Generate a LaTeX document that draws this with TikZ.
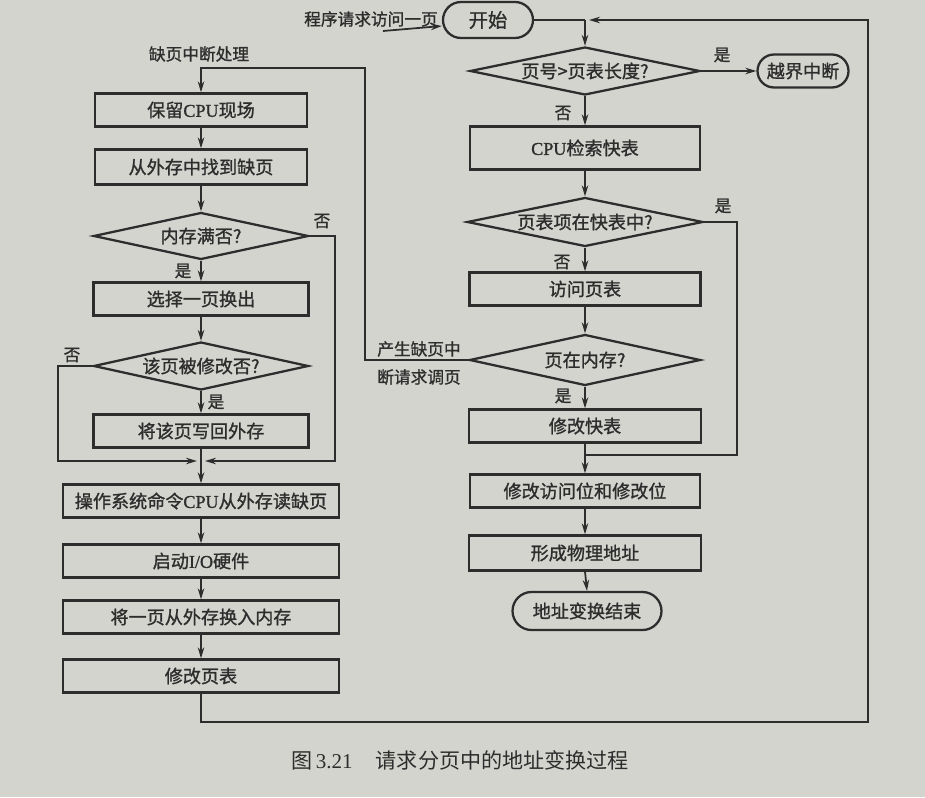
\documentclass[tikz,border=0pt]{standalone}
\usepackage{fontspec}
\setmainfont{Liberation Serif}
\newfontfamily\cjk[FakeBold=1.2]{Noto Sans CJK SC}
\newfontfamily\capfont{Noto Sans CJK SC}
\newfontfamily\latfont[FakeBold=1.2]{Liberation Serif}
\usetikzlibrary{shapes.geometric,shapes.misc,arrows.meta}
\definecolor{paper}{RGB}{212,212,207}
\definecolor{ink}{RGB}{45,45,45}
\begin{document}
\begin{tikzpicture}[x=0.02cm,y=-0.02cm,
  every node/.style={text=ink,font=\cjk\fontsize{10.3}{12}\selectfont},
  proc/.style={draw=ink,line width=1.3pt,rectangle,minimum height=0.66cm,inner sep=0pt},
  decide/.style={draw=ink,line width=1.3pt,diamond,aspect=5,inner sep=0pt},
  term/.style={draw=ink,line width=1.3pt,rounded rectangle,minimum height=0.72cm,inner sep=0pt},
  lbl/.style={font=\cjk\fontsize{9.5}{11}\selectfont},
  ln/.style={draw=ink,line width=1pt},
  arr/.style={draw=ink,line width=1pt,-{Stealth[length=2.2mm,width=1.3mm]}}]
  \fill[paper] (0,0) rectangle (925,797);
  \node[term,minimum width=1.8cm,font=\cjk\fontsize{11}{13}\selectfont] (start) at (488,20) {开始};
  \node[lbl] (reqlbl) at (371,19) {程序请求访问一页};
  \coordinate (reqtail) at (383,31);
  \coordinate (jtop) at (585,20);
  \node[decide,minimum width=4.6cm,minimum height=0.96cm] (bound) at (585,71) {页号>页表长度?};
  \node[term,minimum width=1.82cm,minimum height=0.66cm] (oob) at (803,71) {越界中断};
  \node[proc,minimum width=4.6cm,minimum height=0.86cm] (tlbsearch) at (585,148) {{\latfont CPU}检索快表};
  \node[decide,minimum width=4.72cm,minimum height=0.98cm] (intlb) at (585,222) {页表项在快表中?};
  \node[proc,minimum width=4.62cm] (pgtlook) at (585,289) {访问页表};
  \node[decide,minimum width=4.62cm,minimum height=1.02cm] (inmem) at (585,360) {页在内存?};
  \node[proc,minimum width=4.64cm] (updtlb) at (585,426) {修改快表};
  \coordinate (hitturn) at (737,455);
  \node[proc,minimum width=4.6cm] (updbits) at (585,491) {修改访问位和修改位};
  \node[proc,minimum width=4.64cm,minimum height=0.7cm] (phys) at (585,553) {形成物理地址};
  \node[term,minimum width=2.98cm,minimum height=0.76cm] (done) at (587,611) {地址变换结束};
  \coordinate (pfturn) at (365,68);
  \node[lbl] (pflbl) at (199,54) {缺页中断处理};
  \node[proc,minimum width=4.24cm] (save) at (201,110) {保留{\latfont CPU}现场};
  \node[proc,minimum width=4.24cm,minimum height=0.7cm] (find) at (201,167) {从外存中找到缺页};
  \node[decide,minimum width=4.3cm,minimum height=0.94cm] (full) at (201,236) {内存满否?};
  \node[proc,minimum width=4.3cm] (victim) at (201,299) {选择一页换出};
  \node[decide,minimum width=4.3cm,minimum height=0.96cm] (dirty) at (201,366) {该页被修改否?};
  \node[proc,minimum width=4.3cm] (wb) at (201,431) {将该页写回外存};
  \coordinate (jleft) at (201,461);
  \coordinate (fullturn) at (335,461);
  \coordinate (dirtyturn) at (58,461);
  \node[proc,minimum width=5.52cm] (osread) at (201,501) {操作系统命令{\latfont CPU}从外存读缺页};
  \node[proc,minimum width=5.52cm] (io) at (201,561) {启动{\latfont I/O}硬件};
  \node[proc,minimum width=5.52cm] (swapin) at (201,617) {将一页从外存换入内存};
  \node[proc,minimum width=5.52cm] (pgtupd) at (201,676) {修改页表};
  \coordinate (loopbr) at (868,722);
  \node[lbl] (y1) at (722,55) {是};
  \node[lbl] (n1) at (563,113) {否};
  \node[lbl] (y2) at (723,206) {是};
  \node[lbl] (n2) at (562,262) {否};
  \node[lbl] (y3) at (563,396) {是};
  \node[lbl] (pf1) at (419,349) {产生缺页中};
  \node[lbl] (pf2) at (419,377) {断请求调页};
  \node[lbl] (n4) at (322,221) {否};
  \node[lbl] (y4) at (183,271) {是};
  \node[lbl] (n5) at (72,355) {否};
  \node[lbl] (y5) at (216,402) {是};
  \node[font=\capfont\fontsize{12}{14}\selectfont] (cap) at (460,760) {图\,{\rmfamily 3.21}\hspace{1.1em}请求分页中的地址变换过程};
  \draw[arr] (reqtail) -- ([yshift=-1.2mm]start.west);
  \draw[ln] (start.east) -- (jtop);
  \draw[arr] (jtop) -- (bound.north);
  \draw[arr] (bound.east) -- (oob.west);
  \draw[arr] (bound.south) -- (tlbsearch.north);
  \draw[arr] (tlbsearch.south) -- (intlb.north);
  \draw[arr] (intlb.south) -- (pgtlook.north);
  \draw[arr] (pgtlook.south) -- (inmem.north);
  \draw[arr] (inmem.south) -- (updtlb.north);
  \draw[arr] (updtlb.south) -- (updbits.north);
  \draw[ln] (intlb.east) -| (hitturn) -- (updtlb.south |- hitturn);
  \draw[arr] (updbits.south) -- (phys.north);
  \draw[arr] (phys.south) -- (done.north);
  \draw[arr] (inmem.west) -| (pfturn) -| (save.north);
  \draw[arr] (save.south) -- (find.north);
  \draw[arr] (find.south) -- (full.north);
  \draw[arr] (full.south) -- (victim.north);
  \draw[arr] (victim.south) -- (dirty.north);
  \draw[arr] (dirty.south) -- (wb.north);
  \draw[arr] (wb.south) -- (osread.north);
  \draw[arr] (full.east) -| (fullturn) -- ([xshift=0.8mm]jleft);
  \draw[arr] (dirty.west) -| (dirtyturn) -- ([xshift=-0.8mm]jleft);
  \draw[arr] (osread.south) -- (io.north);
  \draw[arr] (io.south) -- (swapin.north);
  \draw[arr] (swapin.south) -- (pgtupd.north);
  \draw[arr] (pgtupd.south) |- (loopbr) |- ([xshift=0.8mm]jtop);
\end{tikzpicture}
\end{document}
